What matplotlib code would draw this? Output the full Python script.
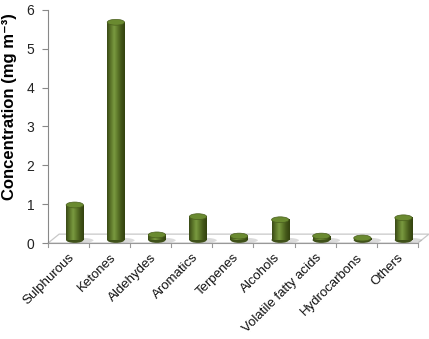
import numpy as np
import matplotlib
matplotlib.use("Agg")
import matplotlib.pyplot as plt
from matplotlib.patches import Ellipse, Polygon
from matplotlib.colors import LinearSegmentedColormap

categories = ["Sulphurous", "Ketones", "Aldehydes", "Aromatics", "Terpenes",
              "Alcohols", "Volatile fatty acids", "Hydrocarbons", "Others"]
values = [0.9, 5.6, 0.13, 0.6, 0.1, 0.52, 0.1, 0.05, 0.57]
yticks = [0, 1, 2, 3, 4, 5, 6]

plt.rcParams['font.family'] = ['Liberation Sans', 'DejaVu Sans']

fig = plt.figure(figsize=(4.29, 3.39), dpi=100)
ax = fig.add_axes([0.112, 0.283, 0.862, 0.688])

n = len(categories)
x = np.arange(n)
depth_y = 0.23
depth_x = 0.27
bar_off_x = 0.15
bar_base = 0.08
bar_w = 0.42
ell_h = 0.15

cmap = LinearSegmentedColormap.from_list(
    "cyl", ["#3a4a17", "#5a7428", "#7a9a40", "#5d782a", "#435619", "#33420f"])
grad = np.linspace(0, 1, 64).reshape(1, -1)

# floor
floor = Polygon([(-0.5, 0), (8.5, 0), (8.5 + depth_x, depth_y), (-0.5 + depth_x, depth_y)],
                closed=True, facecolor="white", edgecolor="#c8c8c8", lw=0.9,
                clip_on=False, zorder=1)
ax.add_patch(floor)

for xi, v in zip(x, values):
    cx = xi + bar_off_x
    x0, x1 = cx - bar_w / 2, cx + bar_w / 2
    ax.add_patch(Ellipse((cx + 0.12, bar_base - 0.01), bar_w * 1.6, ell_h * 0.9,
                         facecolor="#9a9a9a", alpha=0.35, edgecolor="none", zorder=2,
                         clip_on=False))
    top = bar_base + v
    ax.imshow(grad, cmap=cmap, extent=[x0, x1, bar_base, top], aspect="auto",
              zorder=3, interpolation="bilinear")
    ax.add_patch(Ellipse((cx, bar_base), bar_w, ell_h, facecolor="#3f5119",
                         edgecolor="none", zorder=2.9, clip_on=False))
    ax.add_patch(Ellipse((cx, top), bar_w, ell_h, facecolor="#6a8a30",
                         edgecolor="#4a5f1e", lw=0.5, zorder=4))

ax.set_xlim(-0.5, 8.5)
ax.set_ylim(0, 6)
ax.set_yticks(yticks)
ax.set_yticklabels([str(t) for t in yticks], fontsize=10, color="#222222")
ax.set_xticks(x)
ax.set_xticklabels(categories, rotation=45, ha="right", rotation_mode="anchor",
                   fontsize=9.5, color="#111111")
ax.tick_params(axis="x", length=0, pad=6)
ax.tick_params(axis="y", length=4, color="#888888", width=0.8, pad=6)
for b in np.arange(-0.5, n, 1.0):
    ax.plot([b, b], [0, -0.1], color="#999999", lw=0.8, clip_on=False, zorder=1)

for s in ["top", "right"]:
    ax.spines[s].set_visible(False)
ax.spines["bottom"].set_color("#999999")
ax.spines["left"].set_color("#888888")
ax.spines["bottom"].set_linewidth(0.8)
ax.spines["left"].set_linewidth(0.8)

ax.set_ylabel("Concentration (mg m⁻³)", fontsize=12, fontweight="bold")
ax.yaxis.set_label_coords(-0.085, 0.585)

fig.savefig("out.png", dpi=100)
